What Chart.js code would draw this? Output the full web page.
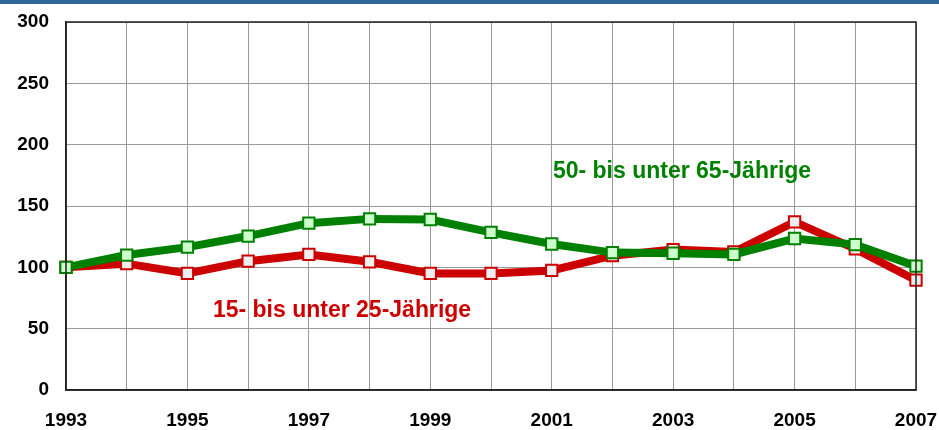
<!DOCTYPE html>
<html>
<head>
<meta charset="utf-8">
<script src="https://cdn.jsdelivr.net/npm/chart.js@4.4.1/dist/chart.umd.min.js"></script>
<style>
  html, body { margin: 0; padding: 0; background: #ffffff; }
  #wrap { position: relative; width: 939px; height: 430px; }
  #band { position: absolute; left: 0; top: 0; width: 939px; height: 4px; background: #2f6699; }
  canvas { display: block; }
</style>
</head>
<body>
<div id="wrap">
  <canvas id="c" width="939" height="430"></canvas>
  <div id="band"></div>
</div>
<script>
// Index values (1993 = 100) by year
const years = ['1993','1994','1995','1996','1997','1998','1999','2000','2001','2002','2003','2004','2005','2006','2007'];
const olderValues = [100, 110, 116.5, 125.5, 136, 139.5, 139, 128.5, 119, 112, 111.5, 110.5, 123.5, 118.5, 101];
const youngValues = [100, 103, 95, 105, 110.5, 104.5, 95, 95, 97.5, 109.5, 114.5, 112.5, 137, 115, 89.5];
const seriesNames = ['50- bis unter 65-Jährige', '15- bis unter 25-Jährige'];
const yTicks = [0, 50, 100, 150, 200, 250, 300];

// Series captions placed in data space: [category position, value]
const captionAnchors = [[8.02, 172.5], [2.42, 59.5]];

const GREEN = '#008000';
const RED = '#cc0000';
const FONT = '"Liberation Sans", Arial, sans-serif';

const frame = {
  id: 'frame',
  afterDatasetsDraw(chart) {
    const { ctx, chartArea: a } = chart;
    ctx.save();
    ctx.strokeStyle = '#222';
    ctx.lineWidth = 1.5;
    ctx.strokeRect(a.left, a.top, a.right - a.left, a.bottom - a.top);
    ctx.restore();
  },
  afterDraw(chart) {
    const { ctx, scales } = chart;
    const colors = [GREEN, RED];
    ctx.save();
    ctx.font = 'bold 23px ' + FONT;
    ctx.textAlign = 'left';
    ctx.textBaseline = 'alphabetic';
    captionAnchors.forEach((p, i) => {
      ctx.fillStyle = colors[i];
      ctx.fillText(seriesNames[i], scales.x.getPixelForValue(p[0]), scales.y.getPixelForValue(p[1]));
    });
    ctx.restore();
  }
};

new Chart(document.getElementById('c'), {
  type: 'line',
  data: {
    labels: years,
    datasets: [
      {
        label: seriesNames[0],
        data: olderValues,
        borderColor: GREEN,
        borderWidth: 8,
        pointStyle: 'rect',
        pointRadius: 8,
        pointBorderWidth: 2,
        pointBackgroundColor: '#ccffcc',
        pointBorderColor: GREEN,
        tension: 0
      },
      {
        label: seriesNames[1],
        data: youngValues,
        borderColor: RED,
        borderWidth: 8,
        pointStyle: 'rect',
        pointRadius: 8,
        pointBorderWidth: 2,
        pointBackgroundColor: '#eeeeee',
        pointBorderColor: RED,
        tension: 0
      }
    ]
  },
  options: {
    responsive: false,
    animation: false,
    layout: { padding: { top: 22, right: 23, left: 0, bottom: 0 } },
    plugins: { legend: { display: false }, tooltip: { enabled: false } },
    scales: {
      x: {
        type: 'category',
        offset: false,
        afterFit(s) { s.height = 40; s.paddingLeft = 0; s.paddingRight = 0; },
        grid: { color: '#999', lineWidth: 1, drawTicks: false },
        border: { color: '#222', width: 1.5 },
        ticks: {
          autoSkip: false,
          maxRotation: 0,
          padding: 19,
          color: '#000',
          font: { family: FONT, size: 19, weight: 'bold' },
          callback(v, i) { return i % 2 === 0 ? years[i] : ''; }
        }
      },
      y: {
        min: 0,
        max: 300,
        afterFit(s) { s.width = 66; s.paddingTop = 0; s.paddingBottom = 0; },
        afterBuildTicks(s) { s.ticks = yTicks.map(v => ({ value: v })); },
        grid: { color: '#999', lineWidth: 1, drawTicks: false },
        border: { color: '#222', width: 1.5 },
        ticks: {
          padding: 17,
          color: '#000',
          font: { family: FONT, size: 19, weight: 'bold' }
        }
      }
    }
  },
  plugins: [frame]
});
</script>
</body>
</html>
